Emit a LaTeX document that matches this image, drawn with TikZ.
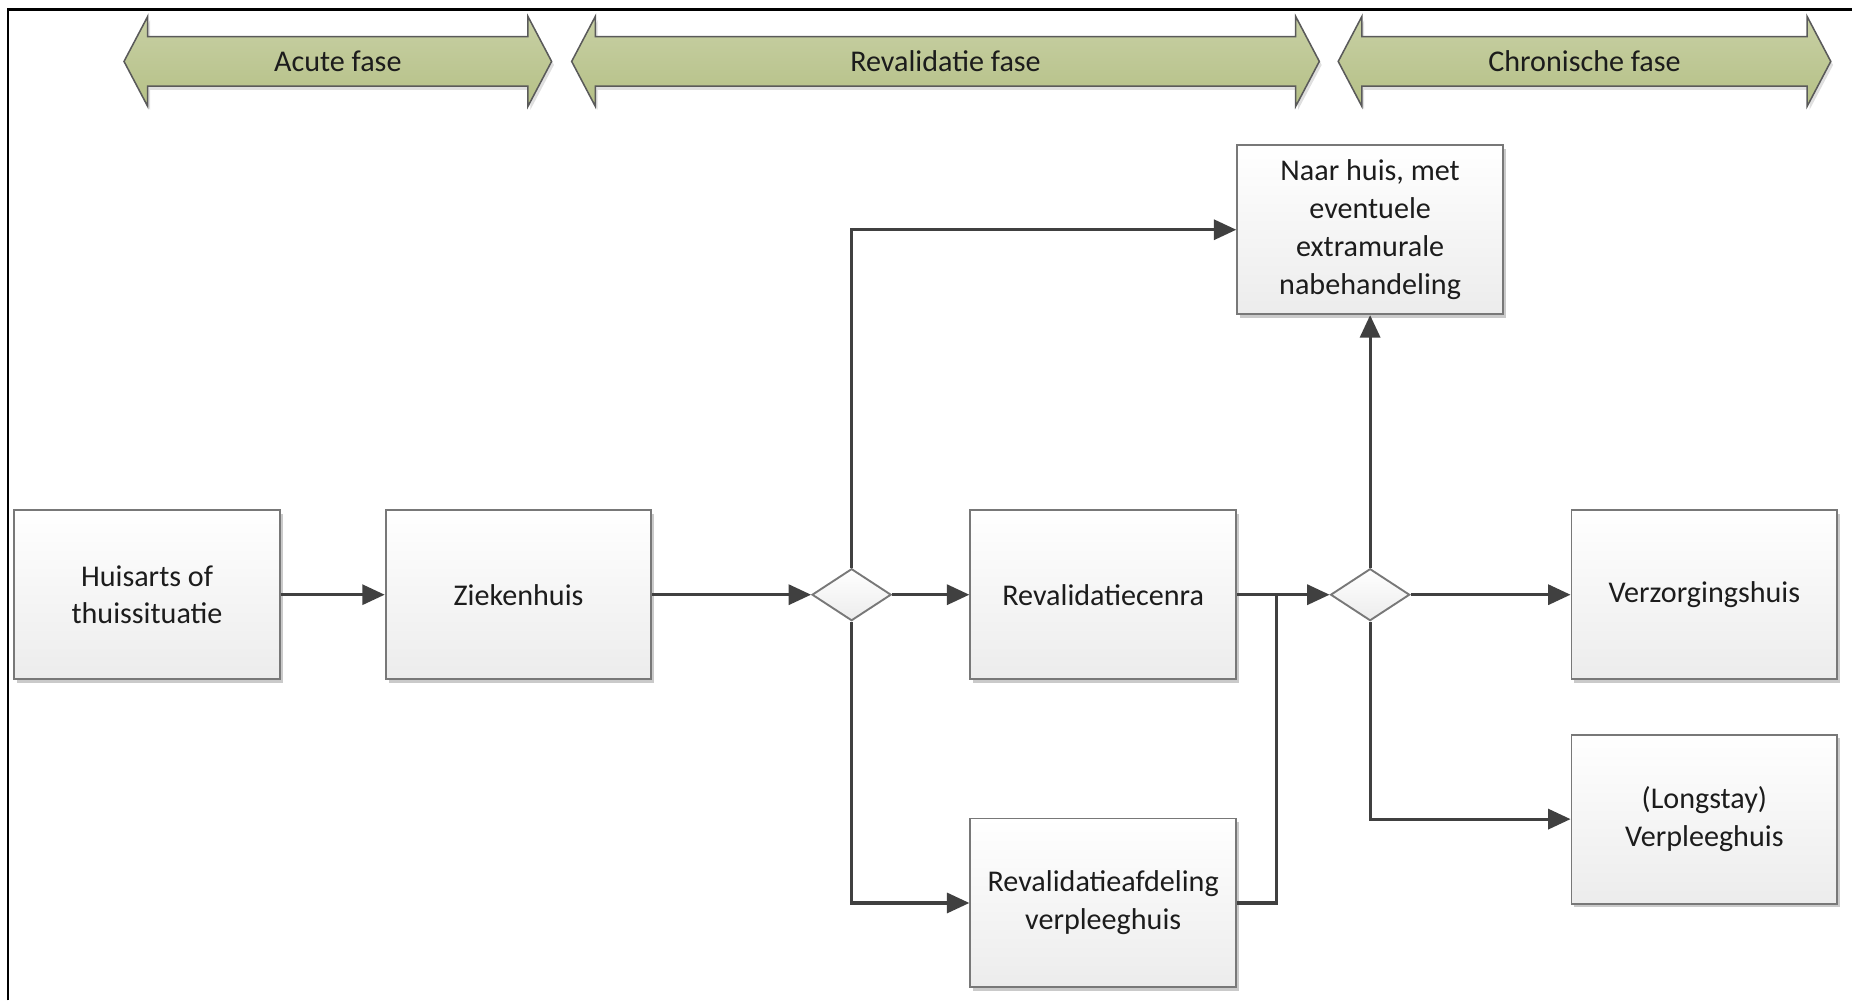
\documentclass[tikz,border=0pt]{standalone}
\usepackage{fontspec}
\setmainfont{Carlito}
\usetikzlibrary{arrows.meta,shapes.geometric,shadows}
\definecolor{barfill}{RGB}{181,192,134}
\definecolor{barline}{RGB}{90,90,90}
\definecolor{boxline}{RGB}{120,120,120}
\definecolor{boxfill}{RGB}{236,236,236}
\definecolor{conncol}{RGB}{64,64,64}
\definecolor{txt}{RGB}{28,28,28}
\tikzset{
  box/.style={draw=boxline, line width=1.6pt, top color=white, bottom color=boxfill,
    minimum width=225pt, minimum height=143pt, inner sep=0pt, align=center,
    font=\fontsize{25.5}{32}\selectfont, text=txt,
    drop shadow={shadow xshift=2.5pt, shadow yshift=-3pt, opacity=0.35, fill=black!60}},
  gate/.style={diamond, draw=boxline, line width=1.6pt, top color=white, bottom color=boxfill,
    minimum width=67pt, minimum height=44pt, inner sep=0pt, shape aspect=1.5},
  conn/.style={draw=conncol, line width=2.6pt, -{Triangle[length=19pt,width=17pt]}},
  plain/.style={draw=conncol, line width=2.6pt},
  bartext/.style={font=\fontsize{25.5}{30}\selectfont, text=txt, inner sep=0pt},
  barshape/.style={draw=barline, line width=1.3pt, top color=barfill!75!white, bottom color=barfill,
    drop shadow={shadow xshift=2pt, shadow yshift=-3pt, opacity=0.25, fill=black!50}}
}
\newcommand\phasebar[4]{%
  \path[barshape] (#1,52) -- (#1+20,14) -- (#1+20,31) -- (#2-20,31) -- (#2-20,14)
    -- (#2,52) -- (#2-20,90) -- (#2-20,73) -- (#1+20,73) -- (#1+20,90) -- cycle;
  \node[bartext] (#3) at ({(#1+#2)/2},52) {#4};
}
\begin{document}
\begin{tikzpicture}[x=1pt,y=-1pt]
\useasboundingbox (0,0) rectangle (1568,847);
% frame (top and left edges)
\draw[black, line width=2pt] (7,847) -- (7,8) -- (1568,8);
% phase bars
\phasebar{105}{467}{acute}{Acute fase}
\phasebar{484}{1117}{reval}{Revalidatie fase}
\phasebar{1133}{1550}{chron}{Chronische fase}
% boxes
\node[box] (hu) at (124.5,503.5) {Huisarts of\\thuissituatie};
\node[box] (zk) at (439,503.5) {Ziekenhuis};
\node[gate] (d1) at (721,503.5) {};
\node[box] (rc) at (934,503.5) {Revalidatiecenra};
\node[box] (nh) at (1160,194.5) {Naar huis, met\\eventuele\\extramurale\\nabehandeling};
\node[box] (ra) at (934,764.5) {Revalidatieafdeling\\verpleeghuis};
\node[gate] (d2) at (1160,503.5) {};
\node[box] (vz) at (1443,503.5) {Verzorgingshuis};
\node[box] (ls) at (1443,693.5) {(Longstay)\\Verpleeghuis};
\coordinate (j) at (1081,503.5);
% connectors
\draw[conn] (hu) -- (zk);
\draw[conn] (zk) -- (d1);
\draw[conn] (d1) -- (rc);
\draw[conn] (d1.north) |- (nh.west);
\draw[conn] (d1.south) |- (ra.west);
\draw[conn] (rc) -- (d2);
\draw[plain] (ra.east) -| (j);
\draw[conn] (d2.north) -- (nh.south);
\draw[conn] (d2) -- (vz);
\draw[conn] (d2.south) |- (ls.west);
\end{tikzpicture}
\end{document}
